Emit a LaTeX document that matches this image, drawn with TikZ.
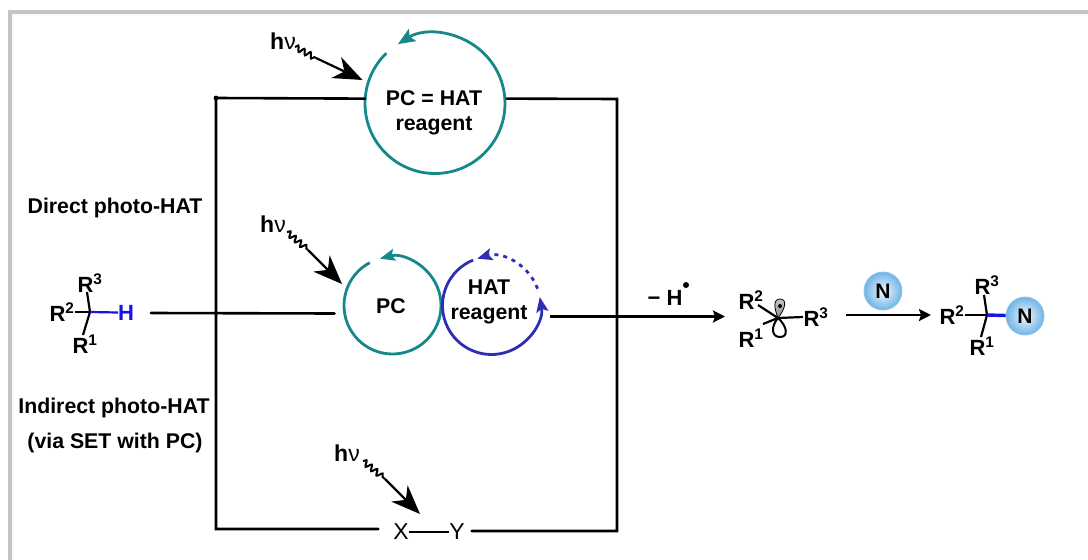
\documentclass[tikz,border=0pt]{standalone}
\usepackage{fontspec}
\setmainfont{Liberation Sans}
\usetikzlibrary{arrows.meta,decorations.pathmorphing,positioning}
\definecolor{myteal}{HTML}{14888A}
\definecolor{myindigo}{HTML}{2E2EB4}
\definecolor{mybond}{HTML}{1414E6}
\definecolor{myframe}{HTML}{C4C4C4}
\definecolor{myball}{HTML}{6FB4E6}
\begin{document}
\begin{tikzpicture}[x=1pt,y=-1pt,
  LBL/.style={font=\fontsize{21.3}{25}\selectfont\bfseries, align=center, inner sep=0pt, outer sep=0pt},
  ATM/.style={font=\fontsize{22}{24}\selectfont\bfseries, inner sep=0pt, outer sep=0pt},
  HV/.style={font=\fontsize{23}{24}\selectfont, inner sep=0pt, outer sep=0pt},
  CYC/.style={circle, inner sep=0pt, outer sep=0pt, minimum size=#1},
  BALL/.style={circle, draw=myball!80!white, line width=0.8pt, minimum size=38pt, inner sep=0pt,
               inner color=myball!8!white, outer color=myball,
               font=\fontsize{21}{22}\selectfont\bfseries},
  WIRE/.style={line width=2.6pt, line cap=round},
  BOND/.style={line width=2.2pt},
  CURVE/.style={line width=2.8pt},
  WAVE/.style={line width=2pt, decorate, decoration={snake, amplitude=2.8pt, segment length=7pt}},
  LIGHT/.style={line width=2.2pt, -{Stealth[length=29pt, width=23pt, inset=9pt]}},
  GO/.style={line width=2.4pt, -{Stealth[length=12pt, width=12pt, inset=2pt]}}
]
\useasboundingbox (0,0) rectangle (1088,560);

% frame
\fill[myframe] (8,560) -- (8,10) -- (1088,10) -- (1088,14) -- (12,14) -- (12,560) -- cycle;

% cycles
\node (top) [CYC=140pt] at (435,103.5) {};
\node (pc) [CYC=97pt] at (392.5,305.5) {};
\node (hat) [CYC=98pt] at (491.5,305.5) {};
\node [LBL] at (434,113) {PC = HAT\\reagent};
\node [LBL] at (391,306) {PC};
\node [LBL] at (489,302) {HAT\\reagent};

\draw[CURVE, myteal, -{Stealth[length=17pt, width=14pt, inset=3pt]}] (top.134) arc[start angle=134, end angle=482, radius=70pt];
\draw[CURVE, myteal, -{Stealth[length=15pt, width=12pt, inset=3pt]}] (pc.118) arc[start angle=118, end angle=465, radius=48.5pt];
\draw[CURVE, myindigo, -{Stealth[length=15pt, width=12pt, inset=3pt]}] (hat.112) arc[start angle=112, end angle=370, radius=49pt];
\draw[CURVE, myindigo, dash pattern=on 4pt off 5pt, -{Stealth[length=15pt, width=12pt, inset=3pt]}] (hat.20) arc[start angle=20, end angle=107, radius=49pt];

% wires
\coordinate (tl) at (216,98);
\coordinate (tr) at (617,99);
\coordinate (bl) at (216,529);
\coordinate (br) at (617,531);
\coordinate (ml) at (151,313);
\coordinate (mr) at (334.5,313.5);
\coordinate (ar) at (550,316.5);
\coordinate (arend) at (725,316.5);

\node (x) [HV] at (401,532) {X};
\node (y) [HV] at (457,532) {Y};

\draw[WIRE] (top.176) -- (tl) -- (bl) -- ([xshift=-15pt]x.west |- bl);
\draw[WIRE, shorten <=2pt] (top.4) -- (tr) -- (br) -- ([xshift=7pt]y.east |- br);
\draw[line width=1.8pt] (x) -- (y);
\draw[WIRE] (ml) -- (mr);
\fill (tl) circle (2.4pt);
\fill (216,313) circle (2pt);
\draw[GO] (ar) -- (arend);

% light
\node (hv1) [HV] at (283,41) {\textbf{h}ν};
\node (hv2) [HV] at (273,224) {\textbf{h}ν};
\node (hv3) [HV] at (347,453) {\textbf{h}ν};
\coordinate (w1) at (316,58);
\coordinate (w2) at (308,250);
\coordinate (w3) at (385,479);
\draw[WAVE] (295,47) -- (w1);
\draw[WAVE] (287,232) -- (w2);
\draw[WAVE] (363,461) -- (w3);
\draw[LIGHT] (w1) -- (362.5,80);
\draw[LIGHT] (w2) -- (342,284);
\draw[LIGHT] (w3) -- (420,514);

% side labels
\node [LBL] at (115,207.5) {Direct photo-HAT};
\node [LBL] at (114,407.5) {Indirect photo-HAT};
\node [LBL] at (115,442.5) {(via SET with PC)};

% substrate
\coordinate (s) at (90,312);
\node (s3) [ATM] at (90,283) {R\textsuperscript{3}};
\node (s2) [ATM] at (62,312) {R\textsuperscript{2}};
\node (s1) [ATM] at (85,344) {R\textsuperscript{1}};
\node (sh) [ATM, text=mybond] at (126,312.5) {H};
\draw[BOND] (s) -- (87,292);
\draw[BOND] (s) -- (75,312);
\draw[BOND] (s) -- (83,335);
\draw[BOND, mybond] (s) -- (sh.west);

% minus H
\node (mh) [ATM] at (665,298) {− H};
\fill (686,285) circle (3pt);

% radical
\coordinate (c) at (778,318);
\node (r2) [ATM] at (751,300) {R\textsuperscript{2}};
\node (r1) [ATM] at (751,338) {R\textsuperscript{1}};
\node (r3) [ATM] at (816,317) {R\textsuperscript{3}};
\draw[BOND] (758,305) -- (c);
\draw[BOND] (763,324) -- (c);
\draw[BOND] (c) -- (803,317);
\draw[top color=gray!45, bottom color=gray!90, draw=black, line width=0.8pt] (c) .. controls (774,308) and (773,299) .. (780,299) .. controls (787,299) and (786,308) .. (c);
\fill (780,306) circle (2pt);
\draw[line width=2pt] (c) .. controls (771,326) and (771,337) .. (780,337) .. controls (789,337) and (787,326) .. (c);

\draw[GO] (846,315) -- (931,315);
\node (n1) [BALL] at (883,291) {N};

% product
\coordinate (p) at (987,315);
\node (p3) [ATM] at (987,285) {R\textsuperscript{3}};
\node (p2) [ATM] at (952,315) {R\textsuperscript{2}};
\node (p1) [ATM] at (982,346) {R\textsuperscript{1}};
\draw[BOND] (p) -- (984,295);
\draw[BOND] (p) -- (965,315);
\draw[BOND] (p) -- (981,337);
\node (n2) [BALL] at (1025,316) {N};
\draw[line width=3.4pt, mybond] (p) -- (n2);
\end{tikzpicture}
\end{document}
